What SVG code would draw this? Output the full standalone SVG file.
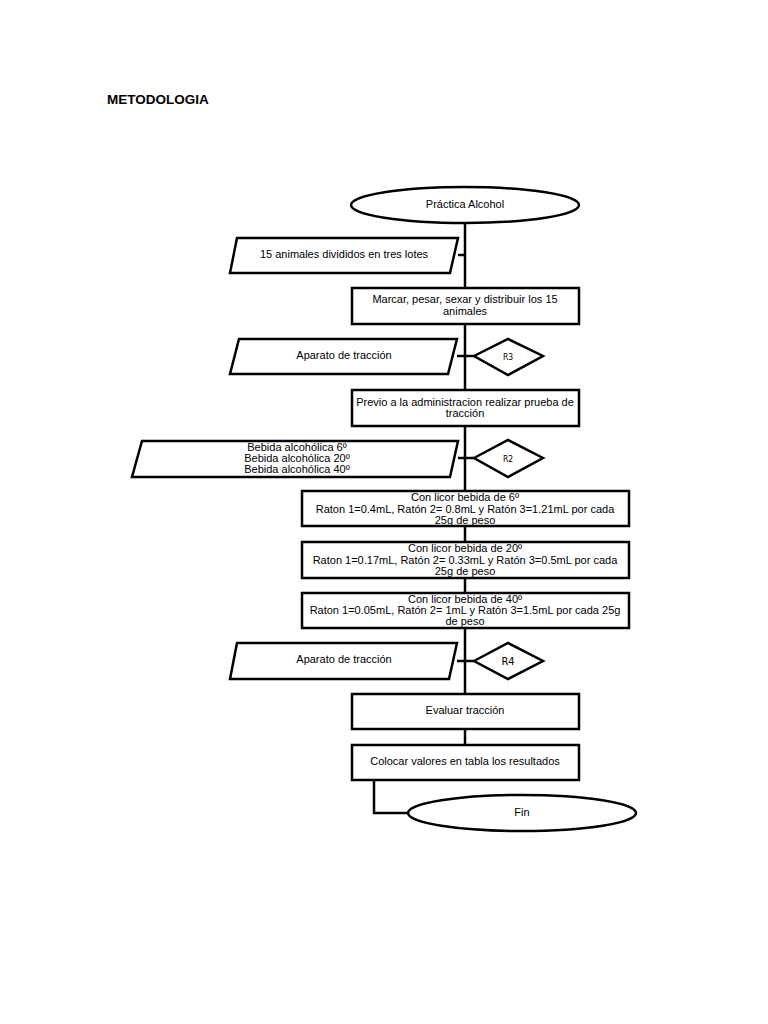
<svg xmlns="http://www.w3.org/2000/svg" width="768" height="1024" viewBox="0 0 768 1024">
<style>
.s{fill:#fff;stroke:#000;stroke-width:2.5;stroke-linejoin:miter}
.c{fill:none;stroke:#000;stroke-width:2.5}
text{font-family:"Liberation Sans",Arial,sans-serif;font-size:11px;fill:#000;text-anchor:middle}
.r{font-size:8.5px;font-family:"DejaVu Sans Condensed","DejaVu Sans",sans-serif}
.r4{font-size:11px;font-family:"DejaVu Sans Condensed","DejaVu Sans",sans-serif}
.t{font-size:13.5px;font-weight:bold;text-anchor:start}
</style>
<rect width="768" height="1024" fill="#fff"/>
<text class="t" x="107" y="104">METODOLOGIA</text>
<g id="connectors">
<line class="c" x1="465" y1="222" x2="465" y2="746"/>
<line class="c" x1="458" y1="255" x2="465" y2="255"/>
<line class="c" x1="457" y1="356" x2="474" y2="356"/>
<line class="c" x1="458" y1="458" x2="474" y2="458"/>
<line class="c" x1="457" y1="661" x2="474" y2="661"/>
<polyline class="c" points="374,780 374,813 409,813"/>
</g>
<g id="start">
<ellipse class="s" cx="465" cy="205" rx="114" ry="18"/>
<text x="465" y="208">Práctica Alcohol</text>
</g>
<g id="input1">
<polygon class="s" points="237,238 458,238 450,273 230,273"/>
<text x="344" y="258">15 animales divididos en tres lotes</text>
</g>
<g id="step1">
<rect class="s" x="352" y="288" width="227" height="36"/>
<text x="465" y="303">Marcar, pesar, sexar y distribuir los 15</text>
<text x="465" y="315">animales</text>
</g>
<g id="input2">
<polygon class="s" points="239,339 457,339 448,374 230,374"/>
<text x="344" y="359">Aparato de tracción</text>
</g>
<g id="r3">
<polygon class="s" points="474,356 508,339 543,356 508,375"/>
<text class="r" x="508" y="360">R3</text>
</g>
<g id="step2">
<rect class="s" x="352" y="390" width="227" height="36"/>
<text x="465" y="406">Previo a la administracion realizar prueba de</text>
<text x="465" y="417">tracción</text>
</g>
<g id="input3">
<polygon class="s" points="142,441 458,441 450,477 132,477"/>
<text x="297" y="451">Bebida alcohólica 6º</text>
<text x="297" y="462">Bebida alcohólica 20º</text>
<text x="297" y="473">Bebida alcohólica 40º</text>
</g>
<g id="r2">
<polygon class="s" points="474,458 508,440 543,458 508,477"/>
<text class="r" x="508" y="462">R2</text>
</g>
<g id="dose6">
<rect class="s" x="302" y="491" width="327" height="35"/>
<text x="465" y="501">Con licor bebida de 6º</text>
<text x="465" y="512.5">Raton 1=0.4mL, Ratón 2= 0.8mL y Ratón 3=1.21mL por cada</text>
<text x="465" y="523.5">25g de peso</text>
</g>
<g id="dose20">
<rect class="s" x="302" y="542" width="327" height="36"/>
<text x="465" y="552">Con licor bebida de 20º</text>
<text x="465" y="563.5">Raton 1=0.17mL, Ratón 2= 0.33mL y Ratón 3=0.5mL por cada</text>
<text x="465" y="574.5">25g de peso</text>
</g>
<g id="dose40">
<rect class="s" x="302" y="593" width="327" height="35"/>
<text x="465" y="602.5">Con licor bebida de 40º</text>
<text x="465" y="613.5">Raton 1=0.05mL, Ratón 2= 1mL y Ratón 3=1.5mL por cada 25g</text>
<text x="465" y="624.5">de peso</text>
</g>
<g id="input4">
<polygon class="s" points="237,643 457,643 449,679 230,679"/>
<text x="344" y="663">Aparato de tracción</text>
</g>
<g id="r4">
<polygon class="s" points="474,661 508,643 543,661 508,679"/>
<text class="r4" x="508" y="665">R4</text>
</g>
<g id="step3">
<rect class="s" x="352" y="694" width="227" height="35"/>
<text x="465" y="714">Evaluar tracción</text>
</g>
<g id="step4">
<rect class="s" x="352" y="745" width="227" height="35"/>
<text x="465" y="765">Colocar valores en tabla los resultados</text>
</g>
<g id="end">
<ellipse class="s" cx="522" cy="813" rx="114" ry="18"/>
<text x="522" y="816">Fin</text>
</g>
</svg>
